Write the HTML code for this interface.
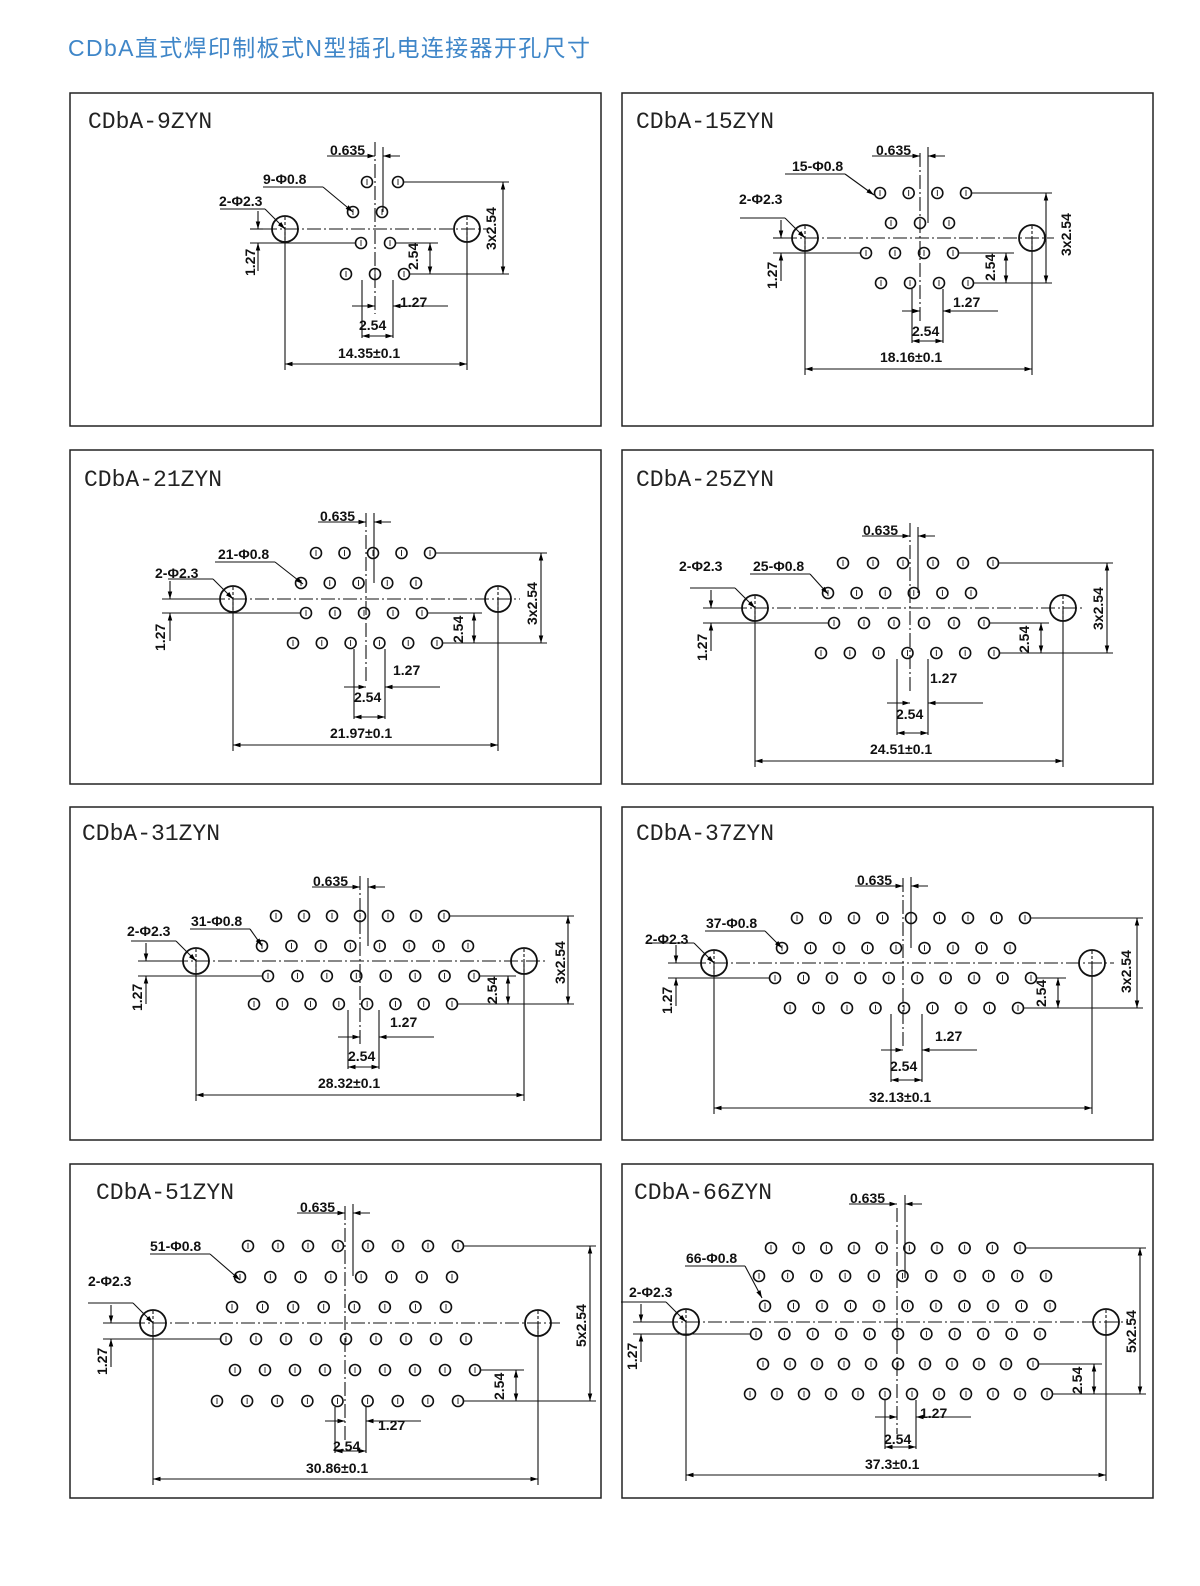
<!DOCTYPE html>
<html><head><meta charset="utf-8"><style>
html,body{margin:0;padding:0;background:#fff;overflow:hidden;width:1200px;height:1586px}
svg{display:block}
.t{font-family:"Liberation Mono",monospace;font-size:23px;fill:#222}
.d{font-family:"Liberation Sans",sans-serif;font-size:14px;font-weight:bold;fill:#111}
</style></head><body>
<svg id="s" width="1200" height="1586" viewBox="0 0 1200 1586" xmlns="http://www.w3.org/2000/svg">
<defs><marker id="a" viewBox="0 0 10 10" refX="10" refY="5" markerWidth="7" markerHeight="7" orient="auto-start-reverse"><path d="M0,2 L10,5 L0,8z" fill="#000"/></marker></defs>
<text x="68" y="56" textLength="522" style="font-family:'Liberation Sans','Noto Sans CJK SC',sans-serif;font-size:23px;fill:#3f86c8">CDbA直式焊印制板式N型插孔电连接器开孔尺寸</text>
<g fill="none" stroke="#222" stroke-width="1.5">
<rect x="70" y="93" width="531" height="333"/><rect x="622" y="93" width="531" height="333"/>
<rect x="70" y="450" width="531" height="334"/><rect x="622" y="450" width="531" height="334"/>
<rect x="70" y="807" width="531" height="333"/><rect x="622" y="807" width="531" height="333"/>
<rect x="70" y="1164" width="531" height="334"/><rect x="622" y="1164" width="531" height="334"/>
</g>
<text class="t" x="88" y="128">CDbA-9ZYN</text>
<text class="t" x="636" y="128">CDbA-15ZYN</text>
<text class="t" x="84" y="486">CDbA-21ZYN</text>
<text class="t" x="636" y="486">CDbA-25ZYN</text>
<text class="t" x="82" y="840">CDbA-31ZYN</text>
<text class="t" x="636" y="840">CDbA-37ZYN</text>
<text class="t" x="96" y="1199">CDbA-51ZYN</text>
<text class="t" x="634" y="1199">CDbA-66ZYN</text>
<g class="d">
<text x="330" y="155">0.635</text><text x="263" y="184">9-Φ0.8</text><text x="219" y="206">2-Φ2.3</text><text x="400" y="307">1.27</text><text x="359" y="330">2.54</text><text x="338" y="358">14.35±0.1</text>
<text transform="translate(255,276) rotate(-90)">1.27</text><text transform="translate(418,270) rotate(-90)">2.54</text><text transform="translate(496,250) rotate(-90)">3x2.54</text>
<text x="876" y="155">0.635</text><text x="792" y="171">15-Φ0.8</text><text x="739" y="204">2-Φ2.3</text><text x="953" y="307">1.27</text><text x="912" y="336">2.54</text><text x="880" y="362">18.16±0.1</text>
<text transform="translate(777,289) rotate(-90)">1.27</text><text transform="translate(995,281) rotate(-90)">2.54</text><text transform="translate(1071,256) rotate(-90)">3x2.54</text>
<text x="320" y="521">0.635</text><text x="218" y="559">21-Φ0.8</text><text x="155" y="578">2-Φ2.3</text><text x="393" y="675">1.27</text><text x="354" y="702">2.54</text><text x="330" y="738">21.97±0.1</text>
<text transform="translate(165,651) rotate(-90)">1.27</text><text transform="translate(463,643) rotate(-90)">2.54</text><text transform="translate(537,625) rotate(-90)">3x2.54</text>
<text x="863" y="535">0.635</text><text x="753" y="571">25-Φ0.8</text><text x="679" y="571">2-Φ2.3</text><text x="930" y="683">1.27</text><text x="896" y="719">2.54</text><text x="870" y="754">24.51±0.1</text>
<text transform="translate(707,661) rotate(-90)">1.27</text><text transform="translate(1029,653) rotate(-90)">2.54</text><text transform="translate(1103,630) rotate(-90)">3x2.54</text>
<text x="313" y="886">0.635</text><text x="191" y="926">31-Φ0.8</text><text x="127" y="936">2-Φ2.3</text><text x="390" y="1027">1.27</text><text x="348" y="1061">2.54</text><text x="318" y="1088">28.32±0.1</text>
<text transform="translate(142,1011) rotate(-90)">1.27</text><text transform="translate(497,1004) rotate(-90)">2.54</text><text transform="translate(565,984) rotate(-90)">3x2.54</text>
<text x="857" y="885">0.635</text><text x="706" y="928">37-Φ0.8</text><text x="645" y="944">2-Φ2.3</text><text x="935" y="1041">1.27</text><text x="890" y="1071">2.54</text><text x="869" y="1102">32.13±0.1</text>
<text transform="translate(672,1014) rotate(-90)">1.27</text><text transform="translate(1046,1007) rotate(-90)">2.54</text><text transform="translate(1131,993) rotate(-90)">3x2.54</text>
<text x="300" y="1212">0.635</text><text x="150" y="1251">51-Φ0.8</text><text x="88" y="1286">2-Φ2.3</text><text x="378" y="1430">1.27</text><text x="333" y="1451">2.54</text><text x="306" y="1473">30.86±0.1</text>
<text transform="translate(107,1375) rotate(-90)">1.27</text><text transform="translate(504,1400) rotate(-90)">2.54</text><text transform="translate(586,1347) rotate(-90)">5x2.54</text>
<text x="850" y="1203">0.635</text><text x="686" y="1263">66-Φ0.8</text><text x="629" y="1297">2-Φ2.3</text><text x="920" y="1418">1.27</text><text x="884" y="1444">2.54</text><text x="865" y="1469">37.3±0.1</text>
<text transform="translate(637,1370) rotate(-90)">1.27</text><text transform="translate(1082,1394) rotate(-90)">2.54</text><text transform="translate(1136,1353) rotate(-90)">5x2.54</text>
</g>
<g id="g" fill="none" stroke="#111" stroke-width="1.1"></g>
</svg>
<script>
var g=document.getElementById('g'),NS='http://www.w3.org/2000/svg';
function el(t,a){var e=document.createElementNS(NS,t);for(var k in a)e.setAttribute(k,a[k]);g.appendChild(e);return e;}
function L(x1,y1,x2,y2,o){var a={x1:x1,y1:y1,x2:x2,y2:y2};if(o)for(var k in o)a[k]=o[k];return el('line',a);}
function R(n,x0,x1){var r=[];for(var i=0;i<n;i++)r.push(x0+(x1-x0)*i/(n-1));return r;}
var P=[
{L:285,R:467,cy:229,vx:375,rows:[[182,[367,398]],[212,[353,382]],[243,[361,390]],[274,[346,375,404]]],dy:364,rx:503,lt:[288,184,353,212],t0:155,rsx:424,tx:360,lx:258},
{L:805,R:1032,cy:238,vx:920,rows:[[193,R(4,880,966)],[223,R(3,891,949)],[253,R(4,866,953)],[283,R(4,881,968)]],dy:369,rx:1046,lt:[810,171,874,195],t0:155,rsx:1000,tx:910,lx:781},
{L:233,R:498,cy:599,vx:366,rows:[[553,R(5,316,430)],[583,R(5,301,416)],[613,R(5,306,422)],[643,R(6,293,437)]],dy:745,rx:541,lt:[240,559,303,584],t0:521,rsx:468,tx:352,lx:170},
{L:755,R:1063,cy:608,vx:910,rows:[[563,R(6,843,993)],[593,R(6,828,971)],[623,R(6,834,984)],[653,R(7,821,994)]],dy:761,rx:1107,lt:[775,571,828,594],t0:535,rsx:1035,tx:895,lx:711},
{L:196,R:524,cy:961,vx:360,rows:[[916,R(7,276,444)],[946,R(8,262,468)],[976,R(8,268,474)],[1004,R(8,254,452)]],dy:1095,rx:568,lt:[215,926,262,946],t0:886,rsx:502,tx:346,lx:146},
{L:714,R:1092,cy:963,vx:903,rows:[[918,R(9,797,1025)],[948,R(9,782,1010)],[978,R(10,775,1031)],[1008,R(9,790,1018)]],dy:1108,rx:1137,lt:[730,928,782,948],t0:885,rsx:1052,tx:889,lx:676},
{L:153,R:538,cy:1323,vx:345,rows:[[1246,R(8,248,458)],[1277,R(8,240,452)],[1307,R(8,232,446)],[1339,R(9,226,466)],[1370,R(9,235,475)],[1401,R(9,217,458)]],dy:1479,rx:590,lt:[175,1251,240,1280],t0:1212,rsx:510,tx:333,lx:111},
{L:686,R:1106,cy:1322,vx:897,rows:[[1248,R(10,771,1020)],[1276,R(11,759,1046)],[1306,R(11,765,1050)],[1334,R(11,756,1040)],[1364,R(11,763,1033)],[1394,R(12,750,1047)]],dy:1475,rx:1140,lt:[710,1263,762,1298],t0:1203,rsx:1088,tx:883,lx:641}
];
var dd={'stroke-dasharray':'14 3 2 3'};
P.forEach(function(p){
 var rows=p.rows,top=rows[0],bot=rows[rows.length-1];
 L(p.L-22,p.cy,p.R+22,p.cy,dd);
 L(p.vx,top[0]-40,p.vx,bot[0]+40,dd);
 L(p.vx+8,p.t0-8,p.vx+8,top[0]+30);
 L(p.vx-48,p.t0+1,p.vx,p.t0+1,{'marker-end':'url(#a)'});L(p.vx+25,p.t0+1,p.vx+8,p.t0+1,{'marker-end':'url(#a)'});
 rows.forEach(function(r){r[1].forEach(function(x){el('circle',{cx:x,cy:r[0],r:5.5,'stroke-width':1.6});L(x,r[0]-3,x,r[0]+3,{'stroke-width':0.9});});});
 [p.L,p.R].forEach(function(x){el('circle',{cx:x,cy:p.cy,r:13,'stroke-width':1.8});L(x,p.cy-12,x,p.cy+12,{'stroke-dasharray':'3 2'});L(x,p.cy,x,p.dy+6);});
 L(p.L,p.dy,p.R,p.dy,{'marker-start':'url(#a)','marker-end':'url(#a)'});
 var tx=top[1][top[1].length-1],bx=bot[1][bot[1].length-1];
 L(tx+6,top[0],p.rx+6,top[0]);L(bx+6,bot[0],p.rx+6,bot[0]);
 L(p.rx,top[0],p.rx,bot[0],{'marker-start':'url(#a)','marker-end':'url(#a)'});
 var pr=rows[rows.length-2];var px=pr[1][pr[1].length-1];
 L(px+6,pr[0],p.rsx+14,pr[0]);L(p.rsx+6,pr[0],p.rsx+6,bot[0],{'marker-start':'url(#a)','marker-end':'url(#a)'});
 // 1.27 left dim: between cy and first row below
 var rb=null;rows.forEach(function(r){if(!rb&&r[0]>p.cy)rb=r;});
 var y2=rb[0],lx=p.lx;
 L(lx-8,p.cy,p.L-22,p.cy);L(lx-8,y2,rb[1][0]-6,y2);
 L(lx,p.cy-18,lx,p.cy,{'marker-end':'url(#a)'});L(lx,y2+28,lx,y2,{'marker-end':'url(#a)'});
 var bl=p.tx+2,br=p.tx+33;
 L(bl,bot[0]+6,bl,p.dy-26);L(br,bot[0]+6,br,p.dy-26);
 L(bl,p.dy-28,br,p.dy-28,{'marker-start':'url(#a)','marker-end':'url(#a)'});
 var yy=p.dy-58;L(bl-10,yy,p.vx,yy,{'marker-end':'url(#a)'});L(br+55,yy,br,yy,{'marker-end':'url(#a)'});
 var lt=p.lt;L(lt[0]-25,lt[1]+3,lt[0]+35,lt[1]+3);L(lt[0]+35,lt[1]+3,lt[2],lt[3],{'marker-end':'url(#a)'});
 L(p.L-65,p.cy-20,p.L-20,p.cy-20);L(p.L-20,p.cy-20,p.L,p.cy,{'marker-end':'url(#a)'});
});
</script>
</body></html>
